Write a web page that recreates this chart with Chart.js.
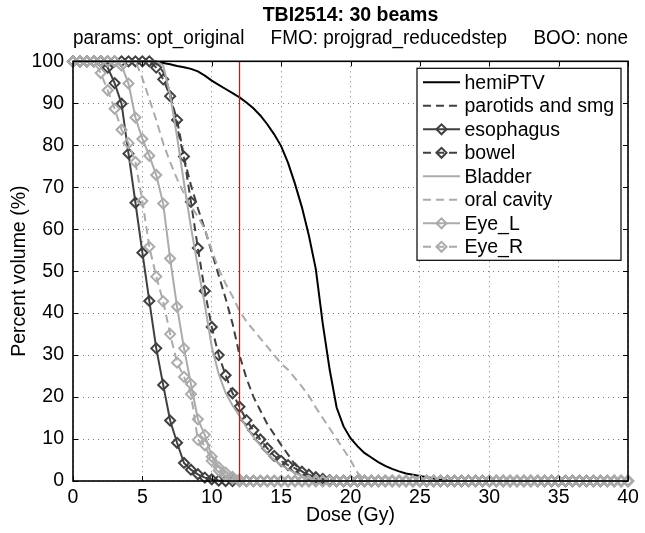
<!DOCTYPE html>
<html>
<head>
<meta charset="utf-8">
<script src="https://cdn.jsdelivr.net/npm/chart.js@4.4.1/dist/chart.umd.min.js"></script>
<style>
html,body{margin:0;padding:0;background:#ffffff;}
canvas{display:block;}
</style>
</head>
<body>
<canvas id="c" width="645" height="533"></canvas>
<script>
// ---------------- text ----------------
const titleText = 'TBI2514: 30 beams';
const subtitleText = 'params: opt_original     FMO: projgrad_reducedstep     BOO: none';
const xAxisTitle = 'Dose (Gy)';
const yAxisTitle = 'Percent volume (%)';
const seriesNames = ['hemiPTV', 'parotids and smg', 'esophagus', 'bowel', 'Bladder', 'oral cavity', 'Eye_L', 'Eye_R'];

// ---------------- data ----------------
const doses = [0,0.5,1,1.5,2,2.5,3,3.5,4,4.5,5,5.5,6,6.5,7,7.5,8,8.5,9,9.5,
  10,10.5,11,11.5,12,12.5,13,13.5,14,14.5,15,15.5,16,16.5,17,17.5,18,18.5,19,19.5,
  20,20.5,21,21.5,22,22.5,23,23.5,24,24.5,25,25.5,26,26.5,27,27.5,28,28.5,29,29.5,
  30,30.5,31,31.5,32,32.5,33,33.5,34,34.5,35,35.5,36,36.5,37,37.5,38,38.5,39,39.5,40];

const hemiPTV = [100,100,100,100,100,100,100,100,100,100,100,100,
  99.9,99.6,99.3,98.9,98.6,98.2,97.6,96.6,
  95.4,94.4,93.4,92.4,91.4,90.2,88.8,87.1,85.0,82.6,79.8,75.8,70.8,65.2,58.5,50.5,37.5,26.5,17.5,13.0,
  10.2,8.3,6.7,5.6,4.5,3.6,2.9,2.3,1.8,1.5,1.2,0.9,0.6,0.3,0.1,0,
  0,0,0,0,0,0,0,0,0,0,0,0,0,0,0,0,0,0,0,0,0,0,0,0,0];

const parotids = [100,100,100,100,100,100,100,100,100,100,100,100,
  99.5,97.5,92.5,84.5,77.0,70.5,65.0,60.0,
  54.5,49.0,43.5,37.5,30.0,24.5,20.1,16.8,13.6,11.1,8.6,6.3,3.9,2.3,1.2,0.5,0.2,0,
  0,0,0,0,0,0,0,0,0,0,0,0,0,0,0,0,0,0,0,0,0,0,0,0,0,0,0,0,0,0,0,0,0,0,0,0,0,0,0,0,0,0,0];

const esophagus = [100,100,100,100,100,98.5,94.8,89.9,78.0,66.3,54.4,42.9,31.6,22.9,14.4,9.1,4.3,2.7,1.6,0.8,
  0.4,0.1,0,0,0,0,0,0,0,0,0,0,0,0,0,0,0,0,0,0,
  0,0,0,0,0,0,0,0,0,0,0,0,0,0,0,0,0,0,0,0,
  0,0,0,0,0,0,0,0,0,0,0,0,0,0,0,0,0,0,0,0,0];

const bowel = [100,100,100,100,100,100,100,100,100,100,100,100,
  98.5,95.7,91.7,86.0,77.3,66.5,55.5,45.3,
  36.7,30.0,25.2,20.9,17.7,14.5,12.1,9.9,7.8,6.0,4.8,3.8,3.0,2.2,1.5,0.9,0.5,0.2,0,0,
  0,0,0,0,0,0,0,0,0,0,0,0,0,0,0,0,0,0,0,0,
  0,0,0,0,0,0,0,0,0,0,0,0,0,0,0,0,0,0,0,0,0];

const bladder = [100,100,100,100,100,100,100,100,100,100,100,100,100,
  99.0,92.0,82.0,71.0,60.5,51.0,42.0,
  32.0,25.5,21.0,18.0,15.5,12.8,10.5,8.5,6.6,5.0,3.8,2.8,1.9,1.2,0.6,0.2,0,0,0,0,
  0,0,0,0,0,0,0,0,0,0,0,0,0,0,0,0,0,0,0,0,
  0,0,0,0,0,0,0,0,0,0,0,0,0,0,0,0,0,0,0,0,0];

const oralCavity = [100,100,100,100,100,100,100,100,100,100,
  96.0,91.0,86.0,80.5,76.0,72.0,68.5,65.5,63.0,60.0,
  55.0,50.5,47.0,44.0,40.5,38.0,36.0,34.0,32.0,30.0,28.0,26.5,24.5,22.5,20.3,17.5,15.0,12.5,10.0,7.5,
  5.0,2.0,0.3,0,0,0,0,0,0,0,0,0,0,0,0,0,0,0,0,0,
  0,0,0,0,0,0,0,0,0,0,0,0,0,0,0,0,0,0,0,0,0];

const eyeL = [100,100,100,100,100,100,100,99.0,94.7,86.6,81.5,77.5,72.9,66.1,53.0,41.5,31.6,23.1,14.7,11.0,
  5.8,3.3,2.0,1.0,0.4,0,0,0,0,0,0,0,0,0,0,0,0,0,0,0,
  0,0,0,0,0,0,0,0,0,0,0,0,0,0,0,0,0,0,0,0,
  0,0,0,0,0,0,0,0,0,0,0,0,0,0,0,0,0,0,0,0,0];

const eyeR = [100,100,100,100,97.2,93.1,88.7,83.7,80.5,76.0,66.7,55.8,48.7,42.8,35.0,28.2,24.8,20.7,9.8,8.5,
  4.8,2.5,1.2,0.5,0,0,0,0,0,0,0,0,0,0,0,0,0,0,0,0,
  0,0,0,0,0,0,0,0,0,0,0,0,0,0,0,0,0,0,0,0,
  0,0,0,0,0,0,0,0,0,0,0,0,0,0,0,0,0,0,0,0,0];

const xTickValues = [0,5,10,15,20,25,30,35,40];
const yTickValues = [0,10,20,30,40,50,60,70,80,90,100];
const referenceDose = 12;

// ---------------- styles ----------------
const FONT_FAMILY = '"Liberation Sans", Arial, Helvetica, sans-serif';
const FONT_SIZE = 19.5;
const BLACK = '#000000', DARK = '#404040', LIGHT = '#ababab';
const DASH = [8, 5];
const seriesStyles = [
  {color: BLACK, dash: [],   marker: false},
  {color: DARK,  dash: DASH, marker: false},
  {color: DARK,  dash: [],   marker: true},
  {color: DARK,  dash: DASH, marker: true},
  {color: LIGHT, dash: [],   marker: false},
  {color: LIGHT, dash: DASH, marker: false},
  {color: LIGHT, dash: [],   marker: true},
  {color: LIGHT, dash: DASH, marker: true}
];
const MARKER_R = 5, MARKER_W = 2, LINE_W = 2;

const seriesValues = [hemiPTV, parotids, esophagus, bowel, bladder, oralCavity, eyeL, eyeR];

const datasets = seriesValues.map((vals, k) => ({
  label: seriesNames[k],
  data: doses.map((d, i) => ({x: d, y: vals[i]})),
  borderColor: seriesStyles[k].color,
  borderWidth: LINE_W,
  borderDash: seriesStyles[k].dash,
  pointStyle: 'rectRot',
  pointRadius: seriesStyles[k].marker ? MARKER_R : 0,
  pointHoverRadius: 0,
  pointBorderColor: seriesStyles[k].color,
  pointBackgroundColor: 'rgba(0,0,0,0)',
  pointBorderWidth: MARKER_W,
  fill: false,
  tension: 0,
  clip: false,
  order: 10 - k
}));
datasets.push({
  label: 'reference',
  data: [{x: referenceDose, y: yTickValues[0]}, {x: referenceDose, y: yTickValues[yTickValues.length - 1]}],
  borderColor: 'rgb(255,0,0)',
  backgroundColor: 'rgb(255,0,0)',
  borderWidth: 1.3,
  pointRadius: 0,
  pointHoverRadius: 0,
  fill: false,
  order: 0
});

// ---------------- plugins ----------------
const framePlugin = {
  id: 'frame',
  afterDatasetsDraw(chart) {
    const ctx = chart.ctx, a = chart.chartArea;
    const xs = chart.scales.x, ys = chart.scales.y;
    ctx.save();
    ctx.strokeStyle = '#000';
    ctx.lineWidth = 1;
    const TL = 5;
    ctx.beginPath();
    xTickValues.forEach(v => {
      const p = Math.round(xs.getPixelForValue(v)) + 0.5;
      ctx.moveTo(p, a.bottom); ctx.lineTo(p, a.bottom - TL);
      ctx.moveTo(p, a.top); ctx.lineTo(p, a.top + TL);
    });
    yTickValues.forEach(v => {
      const p = Math.round(ys.getPixelForValue(v)) + 0.5;
      ctx.moveTo(a.left, p); ctx.lineTo(a.left + TL, p);
      ctx.moveTo(a.right, p); ctx.lineTo(a.right - TL, p);
    });
    ctx.stroke();
    ctx.lineWidth = 1.6;
    ctx.strokeRect(a.left, a.top, a.right - a.left, a.bottom - a.top);
    ctx.restore();
  }
};

function drawDiamond(ctx, x, y, r) {
  ctx.beginPath();
  ctx.moveTo(x - r, y);
  ctx.lineTo(x, y - r);
  ctx.lineTo(x + r, y);
  ctx.lineTo(x, y + r);
  ctx.closePath();
  ctx.stroke();
}

const boxLegendPlugin = {
  id: 'boxLegend',
  afterDraw(chart) {
    const ctx = chart.ctx, a = chart.chartArea;
    const w = 204, h = 192;
    const x0 = a.right - 7 - w, y0 = a.top + 7;
    ctx.save();
    ctx.fillStyle = '#fff';
    ctx.fillRect(x0, y0, w, h);
    ctx.strokeStyle = '#000';
    ctx.lineWidth = 1.2;
    ctx.strokeRect(x0, y0, w, h);
    ctx.font = FONT_SIZE + 'px ' + FONT_FAMILY;
    ctx.textBaseline = 'middle';
    ctx.textAlign = 'left';
    seriesNames.forEach((name, k) => {
      const st = seriesStyles[k];
      const cy = y0 + 14 + k * 23.5;
      const lx1 = x0 + 6, lx2 = x0 + 43;
      ctx.strokeStyle = st.color;
      ctx.lineWidth = LINE_W;
      ctx.setLineDash(st.dash);
      ctx.beginPath();
      ctx.moveTo(lx1, cy); ctx.lineTo(lx2, cy);
      ctx.stroke();
      ctx.setLineDash([]);
      if (st.marker) {
        ctx.lineWidth = MARKER_W;
        drawDiamond(ctx, (lx1 + lx2) / 2, cy, MARKER_R);
      }
      ctx.fillStyle = '#000';
      ctx.fillText(name, x0 + 47.5, cy + 1);
    });
    ctx.restore();
  }
};

// ---------------- chart ----------------
const tickFont = {family: FONT_FAMILY, size: FONT_SIZE};
const gridOpts = {color: '#7a7a7a', lineWidth: 1, drawTicks: false};

new Chart(document.getElementById('c'), {
  type: 'line',
  data: {datasets},
  plugins: [framePlugin, boxLegendPlugin],
  options: {
    responsive: false,
    animation: false,
    devicePixelRatio: 1,
    events: [],
    layout: {padding: {left: 0, right: 17, top: 0, bottom: 0}},
    plugins: {
      legend: {display: false},
      tooltip: {enabled: false},
      title: {
        display: true, text: titleText, color: '#000', fullSize: false,
        font: {family: FONT_FAMILY, size: FONT_SIZE, weight: 'bold'},
        padding: {top: 4, bottom: 0}
      },
      subtitle: {
        display: true, text: subtitleText, color: '#000', fullSize: false,
        font: {family: FONT_FAMILY, size: FONT_SIZE},
        padding: {top: 0, bottom: 10.5}
      }
    },
    scales: {
      x: {
        type: 'linear', min: xTickValues[0], max: xTickValues[xTickValues.length - 1],
        afterBuildTicks: s => { s.ticks = xTickValues.map(v => ({value: v})); },
        ticks: {font: tickFont, color: '#000', padding: 5, maxRotation: 0, autoSkip: false},
        grid: gridOpts,
        border: {display: false, dash: [1, 4]},
        title: {display: true, text: xAxisTitle, color: '#000', font: tickFont, padding: {top: 0, bottom: 6}},
        afterFit: s => { s.height = 52; }
      },
      y: {
        type: 'linear', min: yTickValues[0], max: yTickValues[yTickValues.length - 1],
        afterBuildTicks: s => { s.ticks = yTickValues.map(v => ({value: v})); },
        ticks: {font: tickFont, color: '#000', padding: 9, autoSkip: false},
        grid: gridOpts,
        border: {display: false, dash: [1, 4]},
        title: {display: true, text: yAxisTitle, color: '#000', font: tickFont, padding: {top: 8, bottom: 0}},
        afterFit: s => { s.width = 73; }
      }
    }
  }
});
</script>
</body>
</html>
